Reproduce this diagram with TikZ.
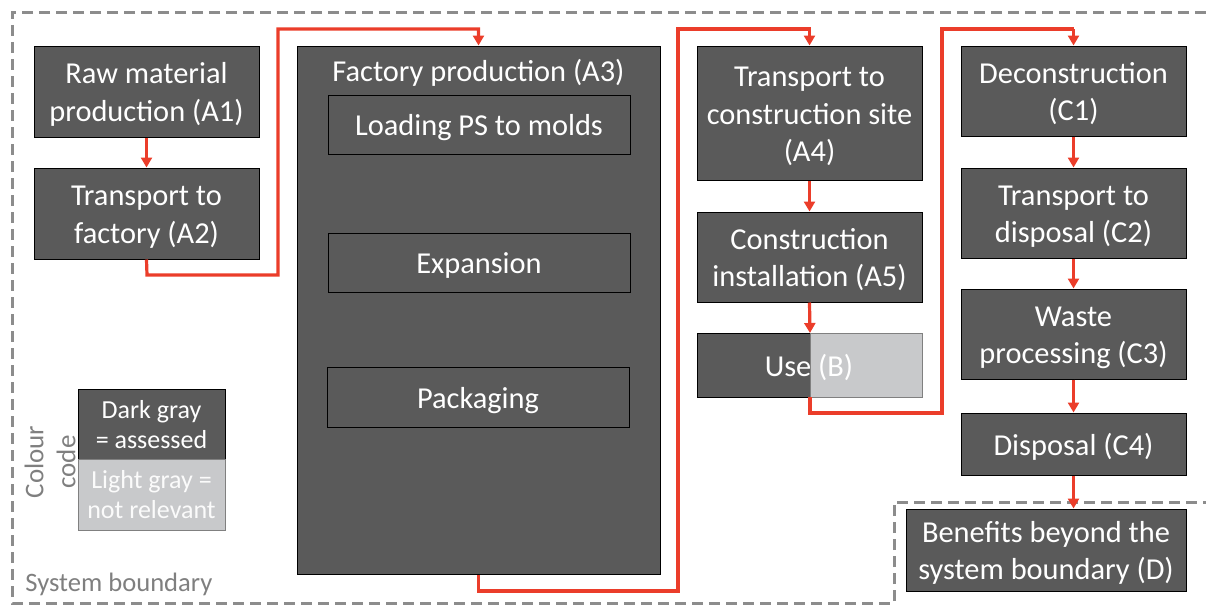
\documentclass[tikz,border=0pt]{standalone}
\usepackage{fontspec}
\setmainfont{Carlito}
\usetikzlibrary{arrows.meta}
\definecolor{darkbox}{HTML}{5A5A5A}
\definecolor{lightbox}{HTML}{C8C9CB}
\definecolor{flowred}{HTML}{EB3D2A}
\definecolor{boundgray}{HTML}{8C8C8C}
\definecolor{labgray}{HTML}{7F7F7F}
\newcommand\mts{\rule{0pt}{15.2pt}}
\newcommand\mbs{\rule[-4.2pt]{0pt}{4.2pt}}
\newcommand\lts{\rule{0pt}{12.7pt}}
\newcommand\lbs{\rule[-3.4pt]{0pt}{3.4pt}}
\tikzset{
  mainfont/.style={font=\fontsize{15.2}{18.8}\selectfont},
  legfont/.style={font=\fontsize{13}{15}\selectfont},
  stagebox/.style={draw=black, line width=0.5pt, fill=darkbox, text=white, align=center,
    inner sep=0pt, mainfont},
  lightstage/.style={stagebox, fill=lightbox, draw=gray},
  subbox/.style={stagebox},
  flow/.style={draw=flowred, line width=1.6pt, -{Triangle[width=5.5pt,length=5pt]}},
  boundary/.style={draw=boundgray, line width=1.5pt, dash pattern=on 5.5pt off 3pt},
  plain/.style={inner sep=0pt, align=center},
}
\begin{document}
\begin{tikzpicture}[x=0.5pt,y=-0.5pt]
\useasboundingbox (0,0) rectangle (1206,605);
% system boundary
\draw[boundary] (1206,12) -- (12,12) -- (12,603) -- (894,603) -- (894,502) -- (1206,502);
% A column
\node[stagebox, minimum width=112.5pt, minimum height=45.5pt] (A1) at (146.5,91.5) {\mts Raw material\\production (A1)\mbs};
\node[stagebox, minimum width=112.5pt, minimum height=45.5pt] (A2) at (146.5,213.5) {\mts Transport to\\factory (A2)\mbs};
\node[stagebox, minimum width=181.5pt, minimum height=264pt] (A3) at (478.5,310) {};
\node[plain, text=white, mainfont] (A3t) at (478.5,73) {Factory production (A3)};
\node[subbox, minimum width=151pt, minimum height=29.5pt] (L) at (479,124.5) {\mts Loading PS to molds\mbs};
\node[subbox, minimum width=151pt, minimum height=29.5pt] (E) at (479,262.5) {\mts Expansion\mbs};
\node[subbox, minimum width=151pt, minimum height=30pt] (P) at (478,397) {\mts Packaging\mbs};
\node[stagebox, minimum width=112.5pt, minimum height=67pt] (A4) at (809.5,113) {\mts Transport to\\construction site\\(A4)\mbs};
\node[stagebox, minimum width=112.5pt, minimum height=45pt] (A5) at (809.5,257) {\mts Construction\\installation (A5)\mbs};
% Use (B)
\node[stagebox, minimum width=56.5pt, minimum height=32pt] (Bd) at (753.5,365) {};
\node[lightstage, minimum width=56pt, minimum height=32pt] (Bl) at (866,365) {};
\node[plain, text=white, mainfont] (B) at (809,367) {Use (B)};
\coordinate (Btop) at (810,333);
\coordinate (Bbot) at (810,397);
% C column
\node[stagebox, minimum width=112.5pt, minimum height=45pt] (C1) at (1073.5,91) {\mts Deconstruction\\(C1)\mbs};
\node[stagebox, minimum width=112.5pt, minimum height=45pt] (C2) at (1073.5,213) {\mts Transport to\\disposal (C2)\mbs};
\node[stagebox, minimum width=112.5pt, minimum height=45pt] (C3) at (1073.5,334) {\mts Waste\\processing (C3)\mbs};
\node[stagebox, minimum width=112.5pt, minimum height=31pt] (C4) at (1073.5,444) {\mts Disposal (C4)\mbs};
\node[stagebox, minimum width=140pt, minimum height=41pt] (D) at (1046,550) {\mts Benefits beyond the\\system boundary (D)\mbs};
% legend
\node[stagebox, legfont, minimum width=73.5pt, minimum height=35pt] (LD) at (151.5,424) {\lts Dark gray\\= assessed\lbs};
\node[lightstage, legfont, minimum width=73.5pt, minimum height=35.5pt, text=white!92!lightbox] (LL) at (151.5,494.5) {\lts Light gray =\\not relevant\lbs};
\node[plain, text=labgray, rotate=90, font=\fontsize{13.5}{16}\selectfont] (CC) at (50,462) {Colour\\code};
\node[plain, text=labgray, anchor=base west, font=\fontsize{13.3}{16}\selectfont] (SB) at (25,591) {System boundary};
% bends
\coordinate (b1) at (147,275);
\coordinate (b2) at (278,275);
\coordinate (b3) at (278,29);
\coordinate (b4) at (478.5,29);
\coordinate (b5) at (478.5,591);
\coordinate (b6) at (678,591);
\coordinate (b7) at (678,29);
\coordinate (b8) at (809.5,29);
\coordinate (b9) at (810,413);
\coordinate (b10) at (942,413);
\coordinate (b11) at (942,29);
\coordinate (b12) at (1073.5,29);
% flows
\draw[flow] (A1) -- (A2);
\draw[flow] (A2.south) -- (b1) -- (b2) -- (b3) -- (b4) -- (A3.north);
\draw[flow] (A3.south) -- (b5) -- (b6) -- (b7) -- (b8) -- (A4.north);
\draw[flow] (A4) -- (A5);
\draw[flow] (A5.south) -- (Btop);
\draw[flow, -] (Bbot) -- (b9) -- (b10) -- (b11) -- (b12);
\draw[flow] (b12) -- (C1.north);
\draw[flow] (C1) -- (C2);
\draw[flow] (C2) -- (C3);
\draw[flow] (C3) -- (C4);
\draw[flow] (C4.south) -- (C4.south |- D.north);
\end{tikzpicture}
\end{document}
